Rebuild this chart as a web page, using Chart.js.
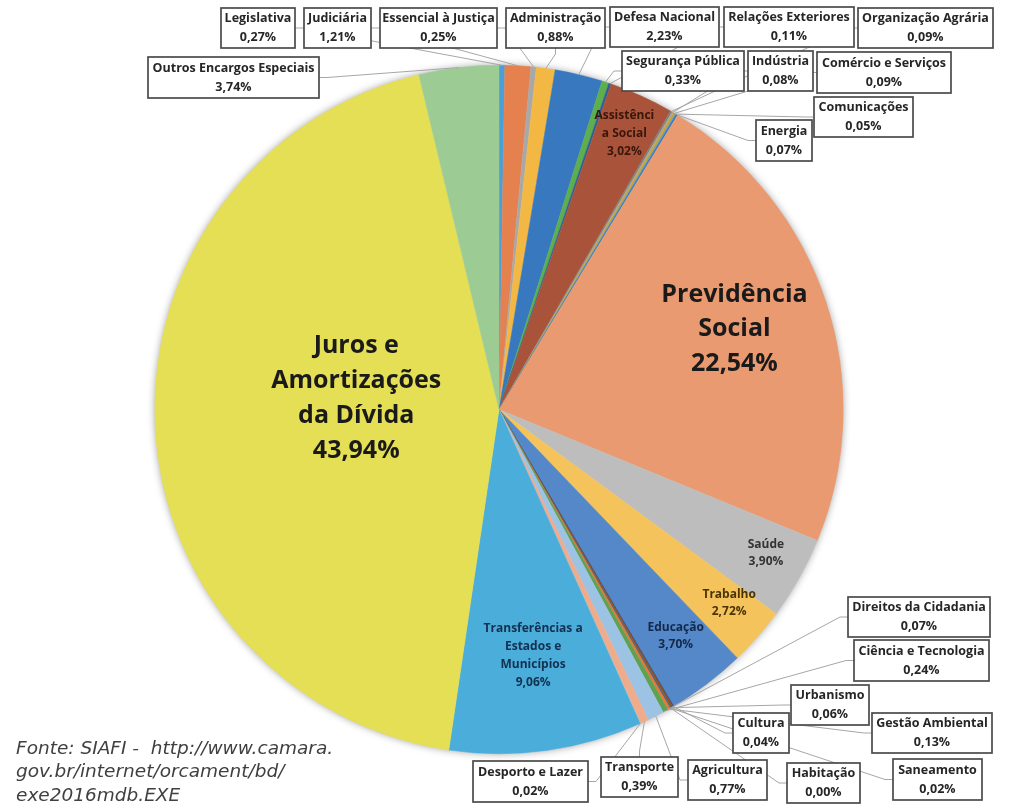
<!DOCTYPE html>
<html>
<head>
<meta charset="utf-8">
<script src="https://cdn.jsdelivr.net/npm/chart.js@4/dist/chart.umd.min.js"></script>
<style>
  html, body { margin: 0; padding: 0; background: #fff; }
  #wrap { width: 1027px; height: 811px; position: relative; }
</style>
</head>
<body>
<div id="wrap"><canvas id="pieChart" width="1027" height="811"></canvas></div>
<script>
// Despesa executada por função - 2016 (% do total)
const categories = [
  'Legislativa', 'Judiciária', 'Essencial à Justiça', 'Administração', 'Defesa Nacional',
  'Segurança Pública', 'Relações Exteriores', 'Assistência Social', 'Organização Agrária',
  'Indústria', 'Comércio e Serviços', 'Comunicações', 'Energia', 'Previdência Social',
  'Saúde', 'Trabalho', 'Educação', 'Cultura', 'Direitos da Cidadania', 'Urbanismo',
  'Habitação', 'Saneamento', 'Gestão Ambiental', 'Ciência e Tecnologia', 'Agricultura',
  'Transporte', 'Desporto e Lazer', 'Transferências a Estados e Municípios',
  'Juros e Amortizações da Dívida', 'Outros Encargos Especiais'
];
const shares = [
  0.27, 1.21, 0.25, 0.88, 2.23,
  0.33, 0.11, 3.02, 0.09,
  0.08, 0.09, 0.05, 0.07, 22.54,
  3.90, 2.72, 3.70, 0.04, 0.07, 0.06,
  0.00, 0.02, 0.13, 0.24, 0.77,
  0.39, 0.02, 9.06,
  43.94, 3.74
];
const sourceNote = ['Fonte: SIAFI -  http://www.camara.', 'gov.br/internet/orcament/bd/', 'exe2016mdb.EXE'];

const sliceColors = [
  '#4a9fd8', '#e5804f', '#a8a8a8', '#f2b843', '#3778bf',
  '#5dae4e', '#2e5e9a', '#a9533a', '#7f7f7f',
  '#b0a48a', '#c9a227', '#5b9bd5', '#2f75b5', '#e99a70',
  '#bdbdbd', '#f4c35c', '#5588c8', '#264478', '#9e480e', '#636363',
  '#997300', '#255e91', '#e07b39', '#5fa052', '#9cc3e3',
  '#f0ab8a', '#c9c9c9', '#4badda',
  '#e5df55', '#9dcb94'
];

// rótulos dentro das fatias: linhas de texto, raio relativo, ajuste vertical, tamanho e cor
const insideLabels = {
  'Previdência Social': { lines: ['Previdência', 'Social'], r: 0.72, dy: -3, size: 25, color: '#1a1a1a', gap: 34.5 },
  'Juros e Amortizações da Dívida': { lines: ['Juros e', 'Amortizações', 'da Dívida'], r: 0.415, dy: -17, size: 25, color: '#1a1a1a', gap: 35 },
  'Transferências a Estados e Municípios': { lines: ['Transferências a', 'Estados e', 'Municípios'], r: 0.72, dy: 1, size: 12, color: '#12304f', gap: 18 },
  'Assistência Social': { lines: ['Assistênci', 'a Social'], r: 0.88, dy: 0, size: 12, color: '#3a160a', gap: 18 },
  'Saúde': { lines: ['Saúde'], r: 0.89, dy: -7, size: 12, color: '#333333', gap: 17 },
  'Trabalho': { lines: ['Trabalho'], r: 0.89, dy: -9, size: 12, color: '#4a3300', gap: 17 },
  'Educação': { lines: ['Educação'], r: 0.85, dy: -7, size: 12, color: '#14294a', gap: 17 }
};

// caixas de rótulo externas (posição em px na tela) e lado de onde sai a linha guia
const calloutBoxes = {
  'Legislativa': { x: 221, y: 8, w: 74, h: 40, side: 'r' },
  'Judiciária': { x: 304, y: 8, w: 67, h: 40, side: 'r' },
  'Essencial à Justiça': { x: 380, y: 8, w: 117, h: 40, side: 'r' },
  'Administração': { x: 506, y: 8, w: 99, h: 40, side: 'b' },
  'Defesa Nacional': { x: 610, y: 7, w: 109, h: 40, side: 'l' },
  'Relações Exteriores': { x: 724, y: 7, w: 130, h: 40, side: 'l' },
  'Organização Agrária': { x: 858, y: 8, w: 135, h: 40, side: 'l' },
  'Segurança Pública': { x: 622, y: 51, w: 122, h: 40, side: 'l' },
  'Indústria': { x: 748, y: 51, w: 65, h: 40, side: 'l' },
  'Comércio e Serviços': { x: 817, y: 52, w: 134, h: 41, side: 'l' },
  'Comunicações': { x: 814, y: 97, w: 99, h: 40, side: 'l' },
  'Energia': { x: 756, y: 120, w: 56, h: 41, side: 'l' },
  'Outros Encargos Especiais': { x: 148, y: 57, w: 171, h: 41, side: 'r' },
  'Direitos da Cidadania': { x: 848, y: 597, w: 142, h: 40, side: 'l' },
  'Ciência e Tecnologia': { x: 854, y: 640, w: 135, h: 41, side: 'l' },
  'Urbanismo': { x: 791, y: 685, w: 78, h: 40, side: 'l' },
  'Gestão Ambiental': { x: 872, y: 713, w: 120, h: 40, side: 'l' },
  'Cultura': { x: 733, y: 713, w: 56, h: 40, side: 'l' },
  'Agricultura': { x: 688, y: 760, w: 79, h: 40, side: 'l' },
  'Habitação': { x: 787, y: 763, w: 73, h: 40, side: 'l' },
  'Saneamento': { x: 893, y: 759, w: 89, h: 41, side: 'l' },
  'Desporto e Lazer': { x: 473, y: 761, w: 115, h: 41, side: 'r' },
  'Transporte': { x: 601, y: 757, w: 77, h: 40, side: 't' }
};

const pct = v => v.toFixed(2).replace('.', ',') + '%';

function arcPoint(arc, frac) {
  const mid = (arc.startAngle + arc.endAngle) / 2;
  const r = arc.outerRadius * frac;
  return { x: arc.x + Math.cos(mid) * r, y: arc.y + Math.sin(mid) * r };
}

const pieShadow = {
  id: 'pieShadow',
  beforeDatasetsDraw(chart) {
    const arc = chart.getDatasetMeta(0).data[0];
    const ctx = chart.ctx;
    ctx.save();
    ctx.shadowColor = 'rgba(0,0,0,0.45)';
    ctx.shadowBlur = 9;
    ctx.fillStyle = '#ffffff';
    ctx.beginPath();
    ctx.arc(arc.x, arc.y, arc.outerRadius - 1, 0, Math.PI * 2);
    ctx.fill();
    ctx.restore();
  }
};

const pieLabels = {
  id: 'pieLabels',
  afterDatasetsDraw(chart) {
    const ctx = chart.ctx;
    const arcs = chart.getDatasetMeta(0).data;
    ctx.save();
    ctx.textAlign = 'center';
    ctx.textBaseline = 'middle';

    // rótulos internos
    categories.forEach((name, i) => {
      const lab = insideLabels[name];
      if (!lab) return;
      const p = arcPoint(arcs[i], lab.r);
      const lines = lab.lines.concat([pct(shares[i])]);
      ctx.fillStyle = lab.color;
      ctx.font = 'bold ' + lab.size + 'px "Open Sans"';
      const y0 = p.y + lab.dy - (lines.length - 1) * lab.gap / 2;
      lines.forEach((t, k) => ctx.fillText(t, p.x, y0 + k * lab.gap));
    });

    // linhas guia
    ctx.strokeStyle = '#a6a6a6';
    ctx.lineWidth = 1;
    categories.forEach((name, i) => {
      const b = calloutBoxes[name];
      if (!b) return;
      const p = arcPoint(arcs[i], 1.0);
      let ax, ay, sx, sy;
      if (b.side === 'l') { ax = b.x; ay = b.y + b.h / 2; sx = ax - 8; sy = ay; }
      else if (b.side === 'r') { ax = b.x + b.w; ay = b.y + b.h / 2; sx = ax + 8; sy = ay; }
      else if (b.side === 't') { ax = b.x + b.w / 2; ay = b.y; sx = ax; sy = ay - 6; }
      else { ax = b.x + b.w / 2; ay = b.y + b.h; sx = ax; sy = ay + 6; }
      ctx.beginPath();
      ctx.moveTo(ax, ay);
      ctx.lineTo(sx, sy);
      ctx.lineTo(p.x, p.y);
      ctx.stroke();
    });

    // caixas
    categories.forEach((name, i) => {
      const b = calloutBoxes[name];
      if (!b) return;
      ctx.fillStyle = '#ffffff';
      ctx.fillRect(b.x, b.y, b.w, b.h);
      ctx.strokeStyle = '#4a4a4a';
      ctx.lineWidth = 1.7;
      ctx.strokeRect(b.x, b.y, b.w, b.h);
      ctx.fillStyle = '#262626';
      ctx.font = 'bold 12.5px "Open Sans"';
      ctx.fillText(name, b.x + b.w / 2, b.y + b.h / 2 - 9.5);
      ctx.fillText(pct(shares[i]), b.x + b.w / 2, b.y + b.h / 2 + 9.5);
    });

    // fonte
    ctx.textAlign = 'left';
    ctx.fillStyle = '#404040';
    ctx.font = 'italic 18.5px "DejaVu Sans"';
    sourceNote.forEach((t, k) => ctx.fillText(t, 16, 749 + k * 23.5));
    ctx.restore();
  }
};

new Chart(document.getElementById('pieChart'), {
  type: 'pie',
  data: {
    labels: categories,
    datasets: [{
      data: shares,
      backgroundColor: sliceColors,
      borderColor: sliceColors,
      borderWidth: 0.5
    }]
  },
  options: {
    responsive: false,
    animation: false,
    rotation: 0,
    layout: { padding: { left: 154, right: 183, top: 65, bottom: 57 } },
    plugins: {
      legend: { display: false },
      tooltip: { enabled: false },
      title: { display: false }
    }
  },
  plugins: [pieShadow, pieLabels]
});
</script>
</body>
</html>
